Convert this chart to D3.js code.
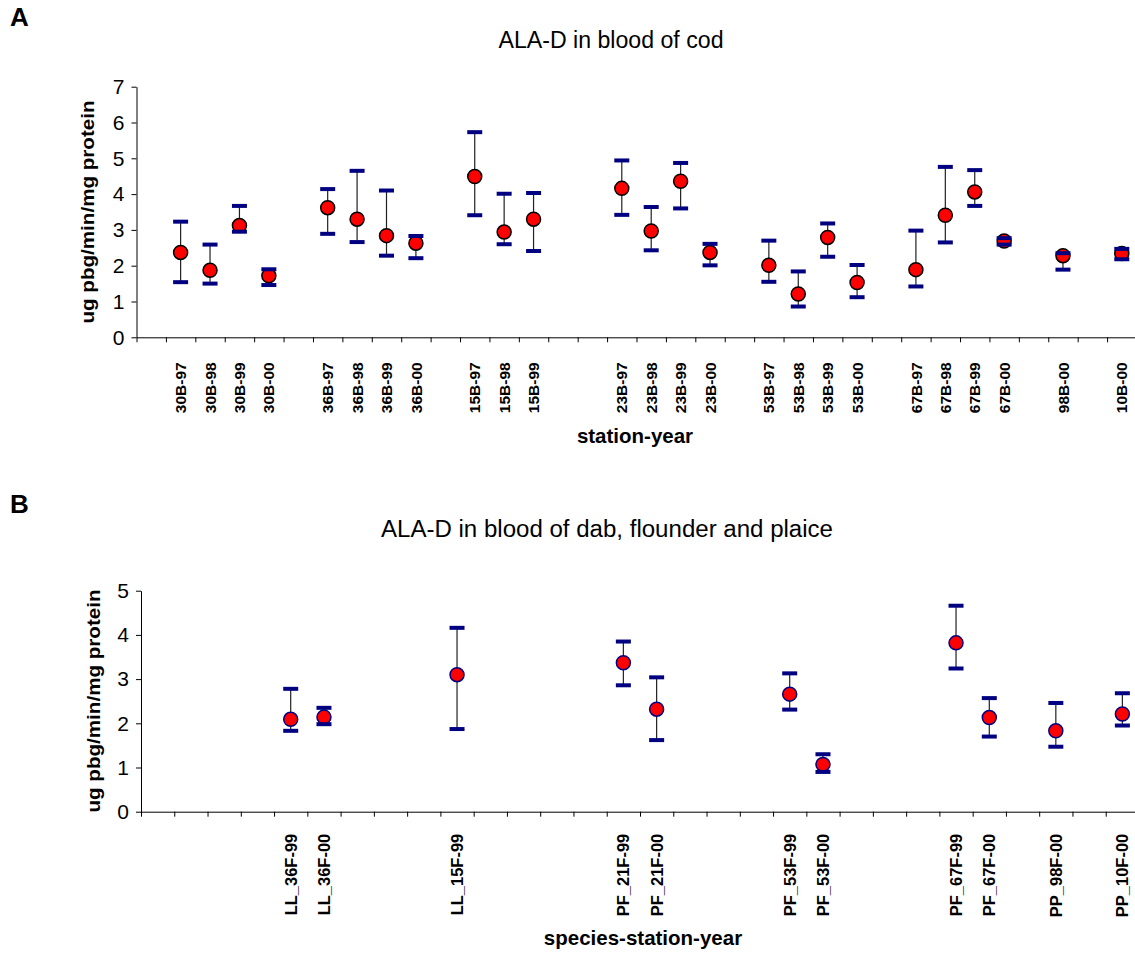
<!DOCTYPE html>
<html><head><meta charset="utf-8">
<script src="https://cdn.jsdelivr.net/npm/d3@7"></script>
<style>
html,body{margin:0;padding:0;background:#fff;}
svg{display:block;font-family:Arial,"Liberation Sans",sans-serif;}
</style></head>
<body>
<svg id="chart" width="1135" height="955"></svg>
<script>
// ---------- Panel A data ----------
const catsA = ["", "30B-97","30B-98","30B-99","30B-00","", "36B-97","36B-98","36B-99","36B-00","",
  "15B-97","15B-98","15B-99","","", "23B-97","23B-98","23B-99","23B-00","",
  "53B-97","53B-98","53B-99","53B-00","", "67B-97","67B-98","67B-99","67B-00","", "98B-00","", "10B-00"];
const meanA  = [null, 2.37,1.87,3.12,1.72, null, 3.62,3.30,2.84,2.63, null,
  4.49,2.94,3.30, null,null, 4.16,2.97,4.36,2.37, null,
  2.01,1.21,2.79,1.53, null, 1.89,3.41,4.06,2.69, null, 2.28, null, 2.34];
const upperA = [null, 3.23,2.59,3.67,1.90, null, 4.14,4.65,4.10,2.83, null,
  5.73,4.01,4.03, null,null, 4.94,3.64,4.87,2.61, null,
  2.70,1.84,3.18,2.02, null, 2.98,4.76,4.67,2.77, null, 2.35, null, 2.47];
const lowerA = [null, 1.54,1.50,2.95,1.46, null, 2.89,2.66,2.28,2.21, null,
  3.41,2.60,2.41, null,null, 3.42,2.43,3.60,2.01, null,
  1.55,0.86,2.25,1.12, null, 1.42,2.65,3.67,2.59, null, 1.89, null, 2.18];
const yTicksA = [0,1,2,3,4,5,6,7];

// ---------- Panel B data ----------
const catsB = ["","","","", "LL_36F-99","LL_36F-00","","","", "LL_15F-99","","","","",
  "PF_21F-99","PF_21F-00","","","", "PF_53F-99","PF_53F-00","","","",
  "PF_67F-99","PF_67F-00","", "PP_98F-00","", "PP_10F-00"];
const meanB  = [null,null,null,null, 2.09,2.14, null,null,null, 3.10, null,null,null,null,
  3.37,2.32, null,null,null, 2.66,1.07, null,null,null, 3.82,2.13, null, 1.83, null, 2.21];
const upperB = [null,null,null,null, 2.78,2.35, null,null,null, 4.16, null,null,null,null,
  3.85,3.04, null,null,null, 3.13,1.30, null,null,null, 4.66,2.57, null, 2.46, null, 2.68];
const lowerB = [null,null,null,null, 1.83,1.98, null,null,null, 1.87, null,null,null,null,
  2.86,1.62, null,null,null, 2.31,0.90, null,null,null, 3.24,1.70, null, 1.47, null, 1.95];
const yTicksB = [0,1,2,3,4,5];

const svg = d3.select("#chart");
const FONT = "Arial, 'Liberation Sans', sans-serif";

function panel(cfg){
  const n = cfg.cats.length;
  const idx = d3.range(n);
  const x = d3.scaleBand().domain(idx).range([cfg.x0, cfg.x1]).paddingInner(0).paddingOuter(0);
  const xb = d3.scaleLinear().domain([0, n]).range([cfg.x0, cfg.x1]);
  const y = d3.scaleLinear().domain([0, cfg.ymax]).range([cfg.y0, cfg.ytop]);
  const g = svg.append("g");

  // panel letter and title
  g.append("text").attr("x", 10).attr("y", cfg.letterY).attr("font-size", 26).attr("font-weight", "bold").text(cfg.letter);
  g.append("text").attr("x", cfg.titleX).attr("y", cfg.titleY).attr("text-anchor", "middle")
    .attr("font-size", 23).attr("fill", "#000")
    .attr("textLength", cfg.titleLen).attr("lengthAdjust", "spacingAndGlyphs").text(cfg.title);

  // y axis
  const ya = g.append("g").attr("transform", `translate(${cfg.x0},0)`)
    .call(d3.axisLeft(y).tickValues(cfg.yTicks).tickFormat(d3.format("d")).tickSize(5).tickSizeOuter(0).tickPadding(7));
  ya.select(".domain").attr("stroke", "#000");
  ya.selectAll("text").attr("font-size", 21).attr("font-family", FONT).attr("fill", "#000");

  // x axis: ticks at band boundaries
  const xa = g.append("g").attr("transform", `translate(0,${cfg.y0})`)
    .call(d3.axisBottom(xb).tickValues(d3.range(n + 1)).tickFormat("").tickSize(5).tickSizeOuter(0));
  xa.select(".domain").attr("stroke", "#000");
  // x labels
  const xl = g.append("g").attr("transform", `translate(0,${cfg.y0})`)
    .call(d3.axisBottom(x).tickFormat(i => cfg.cats[i]).tickSize(0).tickPadding(0));
  xl.select(".domain").remove();
  xl.selectAll("text")
    .attr("font-size", cfg.xFont).attr("font-weight", "bold").attr("fill", "#000")
    .attr("font-family", FONT)
    .attr("text-anchor", "end").attr("transform", `translate(0,${cfg.labOff}) rotate(-90)`)
    .attr("x", 0).attr("y", 0).attr("dy", "0.36em");

  // axis titles
  g.append("text").attr("transform", `translate(${cfg.yLabX},${cfg.yLabY}) rotate(-90)`)
    .attr("text-anchor", "middle").attr("font-size", 18).attr("font-weight", "bold")
    .attr("textLength", 223).attr("lengthAdjust", "spacingAndGlyphs").text("ug pbg/min/mg protein");
  g.append("text").attr("x", cfg.xLabX).attr("y", cfg.xLabY).attr("text-anchor", "middle")
    .attr("font-size", 20.5).attr("font-weight", "bold").text(cfg.xLab);

  // error bars + points
  const pts = idx.filter(i => cfg.mean[i] !== null);
  const cx = i => x(i) + x.bandwidth() / 2;
  g.append("g").selectAll("line").data(pts).join("line")
    .attr("x1", cx).attr("x2", cx).attr("y1", i => y(cfg.upper[i])).attr("y2", i => y(cfg.lower[i]))
    .attr("stroke", "#222").attr("stroke-width", 1.2);
  g.append("g").selectAll("circle").data(pts).join("circle")
    .attr("cx", cx).attr("cy", i => y(cfg.mean[i])).attr("r", 7)
    .attr("fill", "#ff0000").attr("stroke", cfg.markerStroke).attr("stroke-width", 1.5);
  const caps = g.append("g");
  ["upper", "lower"].forEach(k => {
    caps.append("g").selectAll("line").data(pts).join("line")
      .attr("x1", i => cx(i) - 7.5).attr("x2", i => cx(i) + 7.5)
      .attr("y1", i => y(cfg[k][i])).attr("y2", i => y(cfg[k][i]))
      .attr("stroke", "#000080").attr("stroke-width", 4);
  });
}

panel({cats: catsA, mean: meanA, upper: upperA, lower: lowerA, yTicks: yTicksA, ymax: 7,
  x0: 136.5, x1: 1136.5, y0: 337.3, ytop: 86.7, letter: "A", letterY: 26,
  title: "ALA-D in blood of cod", titleX: 611, titleY: 48, titleLen: 225,
  xFont: 15.5, labOff: 25, yLabX: 94, yLabY: 212, xLab: "station-year", xLabX: 635, xLabY: 443,
  markerStroke: "#000"});

panel({cats: catsB, mean: meanB, upper: upperB, lower: lowerB, yTicks: yTicksB, ymax: 5,
  x0: 141, x1: 1139, y0: 811.7, ytop: 590.7, letter: "B", letterY: 513,
  title: "ALA-D in blood of dab, flounder and plaice", titleX: 607, titleY: 537, titleLen: 452,
  xFont: 16.5, labOff: 22, yLabX: 100, yLabY: 701, xLab: "species-station-year", xLabX: 643, xLabY: 945,
  markerStroke: "#000080"});
</script>
</body></html>
